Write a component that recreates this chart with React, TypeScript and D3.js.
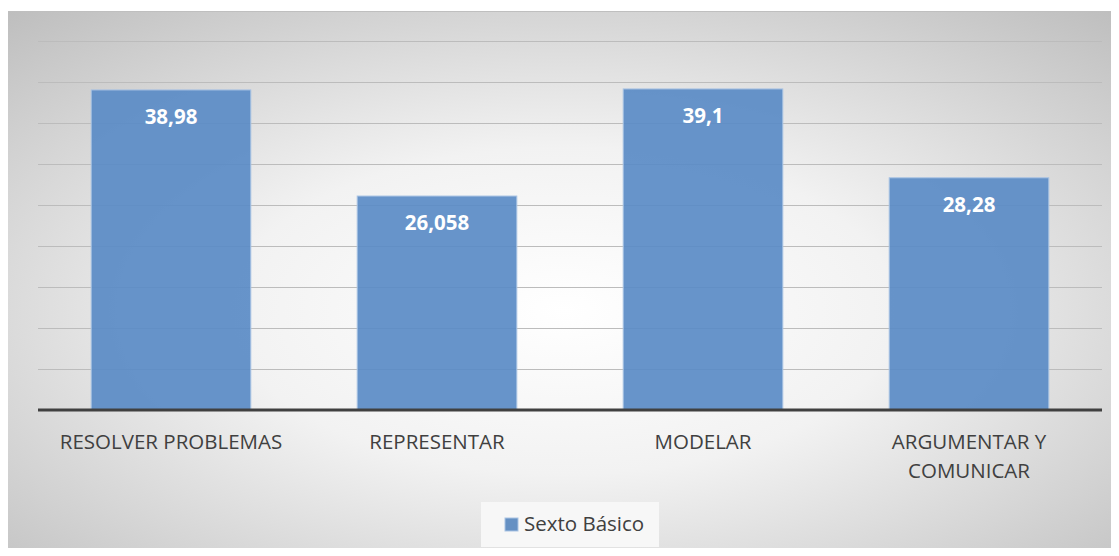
import React from 'react';
import { scaleBand, scaleLinear, range } from 'd3';

const categories = ['RESOLVER PROBLEMAS', 'REPRESENTAR', 'MODELAR', 'ARGUMENTAR Y COMUNICAR'];
const labelLines = [['RESOLVER PROBLEMAS'], ['REPRESENTAR'], ['MODELAR'], ['ARGUMENTAR Y', 'COMUNICAR']];
const values = [38.98, 26.058, 39.1, 28.28];
const valueLabels = ['38,98', '26,058', '39,1', '28,28'];
const seriesName = 'Sexto Básico';
const gridTicks = range(5, 50, 5);

const W = 1119;
const H = 556;
const FONT = '"Open Sans", sans-serif';

const App = () => {
  const left = 38;
  const right = 1102;
  const base = 410;

  const x = scaleBand<string>().domain(categories).range([left, right]).paddingInner(0.4).paddingOuter(0.2);
  const y = scaleLinear().domain([0, 45]).range([base, 40.5]);

  return (
    <div style={{ margin: '-8px' }}>
      <svg width={W} height={H} style={{ display: 'block' }}>
        <defs>
          <radialGradient id='bg' cx='50%' cy='55%' r='75%'>
            <stop offset='0%' stopColor='#ffffff' />
            <stop offset='40%' stopColor='#f2f2f2' />
            <stop offset='100%' stopColor='#bdbdbd' />
          </radialGradient>
        </defs>
        <rect x={0} y={0} width={W} height={H} fill='#fff' />
        <rect x={8} y={11} width={W - 8} height={H - 11} fill='url(#bg)' />
        <line x1={8} x2={W} y1={11.5} y2={11.5} stroke='#bfbfbf' />

        {gridTicks.map((t) => (
          <line key={t} x1={left} x2={right} y1={Math.round(y(t)) + 0.5} y2={Math.round(y(t)) + 0.5}
            stroke='#bcbcbc' strokeWidth={1.2} />
        ))}

        {values.map((v, i) => {
          const c = categories[i];
          const bx = x(c) as number;
          return (
            <g key={c}>
              <rect x={bx} y={y(v)} width={x.bandwidth()} height={base - y(v)}
                fill='#5b8cc6' fillOpacity={0.93} stroke='#a9c3e3' strokeWidth={1} />
              <text x={bx + x.bandwidth() / 2} y={y(v) + 34} textAnchor='middle' fill='#fff'
                fontFamily={FONT} fontWeight={700} fontSize={20.5}>{valueLabels[i]}</text>
            </g>
          );
        })}

        <line x1={left} x2={right} y1={base} y2={base} stroke='#404040' strokeWidth={3} />

        {labelLines.map((lines, i) => {
          const c = categories[i];
          const cx = (x(c) as number) + x.bandwidth() / 2;
          return (
            <text key={c} textAnchor='middle' fill='#404040' fontFamily={FONT} fontSize={20.5}>
              {lines.map((l, j) => (
                <tspan key={j} x={cx} y={448.5 + j * 29}>{l}</tspan>
              ))}
            </text>
          );
        })}

        <g>
          <rect x={481} y={502} width={178} height={45} fill='#f7f7f7' />
          <rect x={505} y={518} width={13} height={13} fill='#6590c3' stroke='#a9c3e3' />
          <text x={524} y={531} fill='#404040' fontFamily={FONT} fontSize={20.5}>{seriesName}</text>
        </g>
      </svg>
    </div>
  );
};

export default App;
